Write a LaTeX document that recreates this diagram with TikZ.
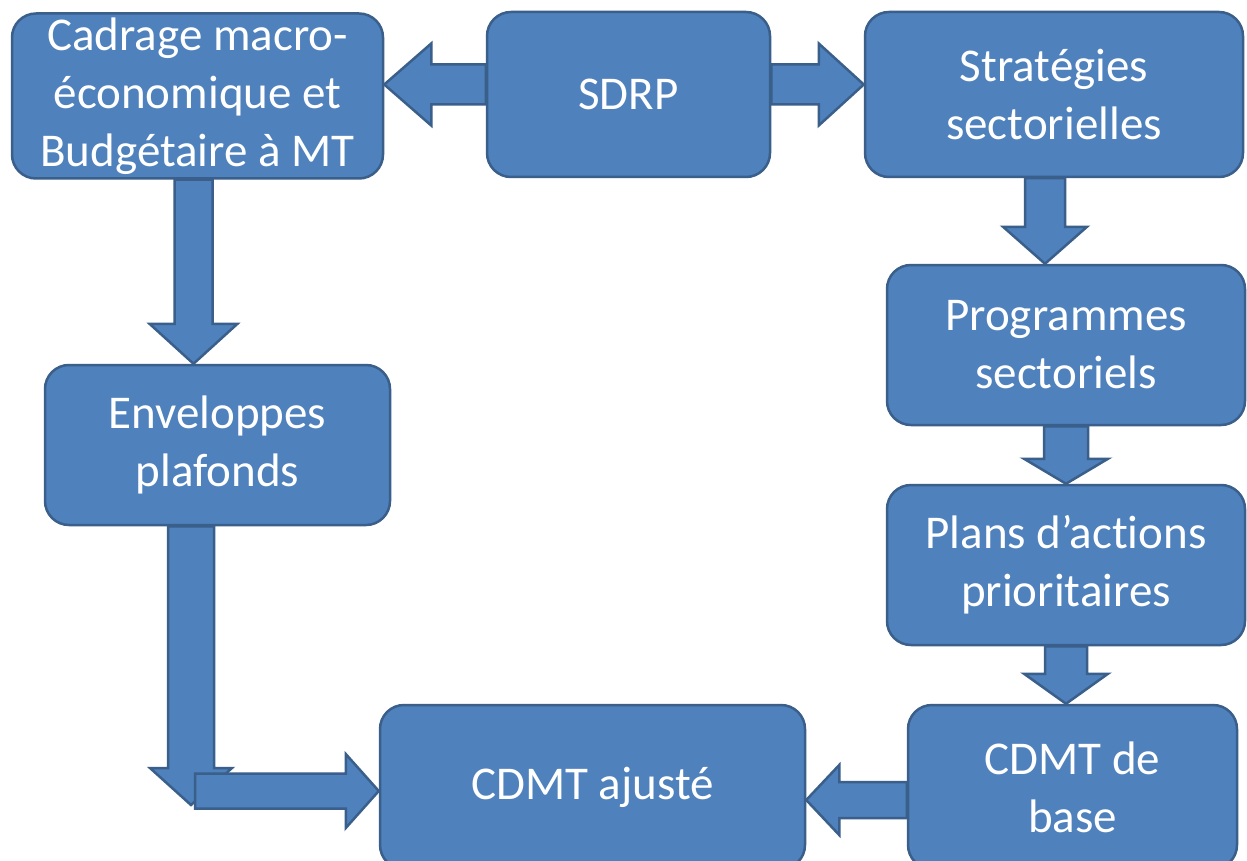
\documentclass[tikz,border=0pt]{standalone}
\usepackage{fontspec}
\setmainfont{Carlito}[Ligatures=NoCommon]
\usetikzlibrary{calc}

\definecolor{boxblue}{HTML}{4F81BD}
\definecolor{boxline}{HTML}{3A5F8B}

\tikzset{
  box/.style={draw=boxline, line width=2.5pt, fill=boxblue, rounded corners=24pt,
    text=white, align=center, inner sep=0pt,
    font=\fontsize{47}{58}\selectfont},
  blockarrow/.style={draw=boxline, line width=2.5pt, fill=boxblue, line join=miter}
}

% block arrows: #1 start, #2 tip, #3 half shaft, #4 half head, #5 head length
\newcommand{\blockdown}[5]{%
  \draw[blockarrow] let \p1=(#1), \p2=(#2) in
    (\x2-#3,\y1) -- (\x2-#3,\y2+#5) -- (\x2-#4,\y2+#5) -- (\x2,\y2)
    -- (\x2+#4,\y2+#5) -- (\x2+#3,\y2+#5) -- (\x2+#3,\y1) -- cycle;}
\newcommand{\blockright}[5]{%
  \draw[blockarrow] let \p1=(#1), \p2=(#2) in
    (\x1,\y2-#3) -- (\x2-#5,\y2-#3) -- (\x2-#5,\y2-#4) -- (\x2,\y2)
    -- (\x2-#5,\y2+#4) -- (\x2-#5,\y2+#3) -- (\x1,\y2+#3) -- cycle;}
\newcommand{\blockleft}[5]{%
  \draw[blockarrow] let \p1=(#1), \p2=(#2) in
    (\x1,\y2-#3) -- (\x2+#5,\y2-#3) -- (\x2+#5,\y2-#4) -- (\x2,\y2)
    -- (\x2+#5,\y2+#4) -- (\x2+#5,\y2+#3) -- (\x1,\y2+#3) -- cycle;}

\begin{document}
\begin{tikzpicture}[x=1pt, y=-1pt]
  \clip (0,0) rectangle (1247,861);
  \fill[white] (0,0) rectangle (1247,861);

  % boxes
  \node[box, minimum width=371pt, minimum height=165pt] (cad) at (197.5,96)
    {Cadrage macro-\\économique et\\Budgétaire à MT};
  \node[box, minimum width=283pt, minimum height=165pt] (sdrp) at (628.5,94.5) {SDRP};
  \node[box, minimum width=378pt, minimum height=165pt] (strat) at (1054,94.5)
    {Stratégies\\sectorielles};
  \node[box, minimum width=358pt, minimum height=160pt] (prog) at (1066,345)
    {Programmes\\sectoriels};
  \node[box, minimum width=358pt, minimum height=160pt] (plans) at (1066,565)
    {Plans d’actions\\prioritaires};
  \node[box, minimum width=329pt, minimum height=164pt] (base) at (1072.5,787)
    {CDMT de\\base};
  \node[box, minimum width=425pt, minimum height=164pt] (ajt) at (592.5,787)
    {CDMT ajusté};
  \node[box, minimum width=345pt, minimum height=160pt] (env) at (217.5,445)
    {Enveloppes\\plafonds};

  % arrows
  \coordinate (sl) at ([yshift=10pt]sdrp.west);
  \coordinate (sr) at ([yshift=10pt]sdrp.east);
  \coordinate (bl) at ([yshift=-13pt]base.west);
  \coordinate (elbow) at (191,805);
  \coordinate (corner) at (195,791);

  \blockleft{sl}{cad.east |- sl}{20pt}{41pt}{47pt}
  \blockright{sr}{strat.west |- sr}{20pt}{41pt}{45pt}
  \blockdown{[xshift=-4pt]cad.south}{[xshift=-4pt]cad.south |- env.north}{19pt}{44pt}{40pt}
  \blockdown{[xshift=-9pt]strat.south}{[xshift=-9pt]strat.south |- prog.north}{20pt}{42pt}{37pt}
  \blockdown{prog.south}{prog.south |- plans.north}{22pt}{42pt}{25pt}
  \blockdown{plans.south}{plans.south |- base.north}{21pt}{42pt}{30pt}
  \blockleft{bl}{ajt.east |- bl}{18pt}{35pt}{33pt}
  \blockdown{env.south -| elbow}{elbow}{23pt}{41pt}{37pt}
  \blockright{corner}{ajt.west |- corner}{17.5pt}{37pt}{33pt}
\end{tikzpicture}
\end{document}
